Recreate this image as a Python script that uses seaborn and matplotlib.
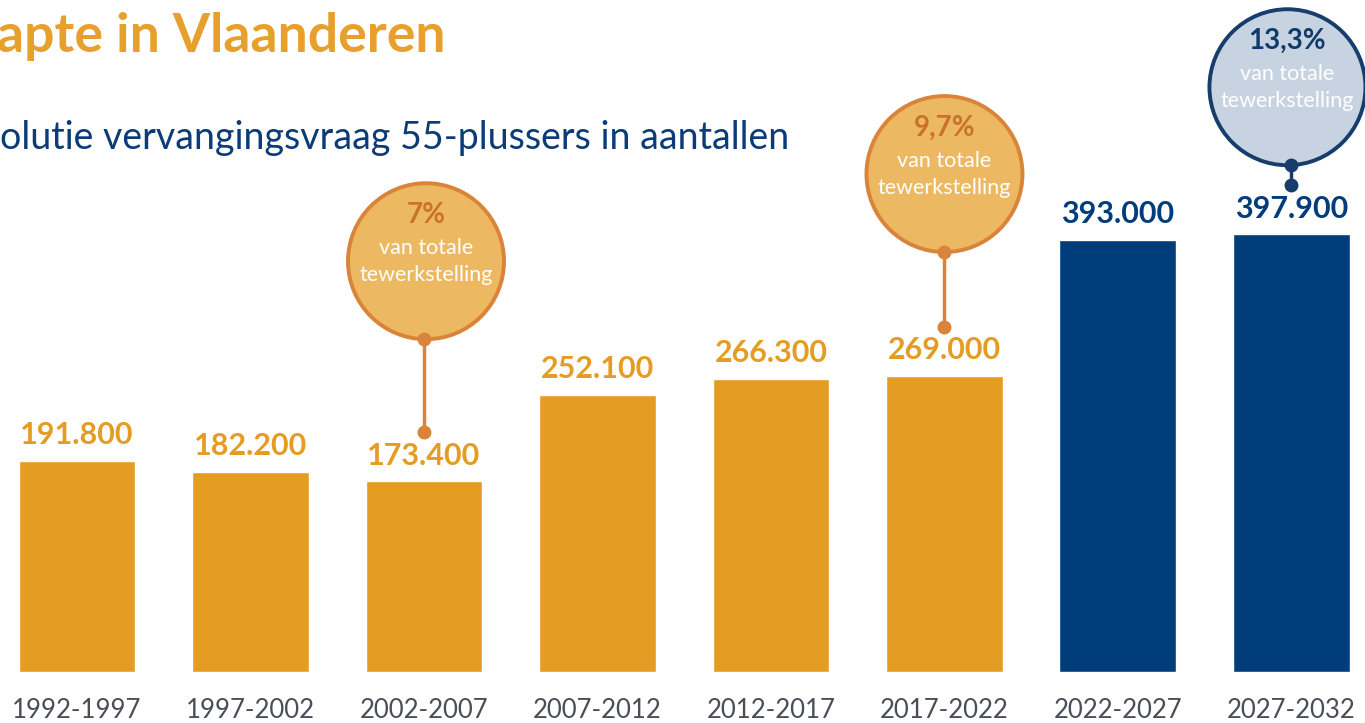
import matplotlib
matplotlib.use("Agg")
import matplotlib.pyplot as plt
import seaborn as sns
import pandas as pd
from matplotlib.patches import Ellipse

# ---------------- data ----------------
periods = ["1992-1997", "1997-2002", "2002-2007", "2007-2012",
           "2012-2017", "2017-2022", "2022-2027", "2027-2032"]
values = [191800, 182200, 173400, 252100, 266300, 269000, 393000, 397900]
value_labels = ["191.800", "182.200", "173.400", "252.100",
                "266.300", "269.000", "393.000", "397.900"]
kind = ["realisatie"] * 6 + ["projectie"] * 2
bubble_periods = ["2002-2007", "2017-2022", "2027-2032"]
bubble_pcts = ["7%", "9,7%", "13,3%"]
bubble_lines = ["van totale", "tewerkstelling"]
title_text = "apte in Vlaanderen"
subtitle_text = "olutie vervangingsvraag 55-plussers in aantallen"

# ---------------- style ----------------
ORANGE = "#E59C22"
NAVY = "#003D7A"
sns.set_theme(style="white")
plt.rcParams["font.family"] = ["Lato", "DejaVu Sans"]

W, H = 1365, 723
BOTTOM_PX = 51
AX_H_PX = H - BOTTOM_PX
XLIM = (-0.444, 7.424)
YLIM = (0, 610800)
xu = (XLIM[1] - XLIM[0]) / W
yu = (YLIM[1] - YLIM[0]) / AX_H_PX

fig = plt.figure(figsize=(W / 100, H / 100), dpi=100)
ax = fig.add_axes([0, BOTTOM_PX / H, 1, AX_H_PX / H])

df = pd.DataFrame({"periode": periods, "aantal": values, "soort": kind})
sns.barplot(data=df, x="periode", y="aantal", hue="soort",
            palette={"realisatie": ORANGE, "projectie": NAVY},
            dodge=False, width=0.674, saturation=1, legend=False, ax=ax)

ax.set_xlim(*XLIM)
ax.set_ylim(*YLIM)
for s in ax.spines.values():
    s.set_visible(False)
ax.set_yticks([])
ax.set_xlabel("")
ax.set_ylabel("")
ax.tick_params(axis="x", length=0, pad=19, labelsize=18.5, labelcolor="#4A4E57")

# value labels
for i, (v, lab, k) in enumerate(zip(values, value_labels, kind)):
    ax.annotate(lab, xy=(i, v), xytext=(0, 12), textcoords="offset points",
                ha="center", va="baseline", fontsize=22, fontweight="bold",
                color=ORANGE if k == "realisatie" else NAVY)

# bubbles
bubble_up_px = [220, 202, 147]
bubble_dx_px = [2, 0, -4]
R_PX = 78
DOT_PX = 49
styles = [
    dict(fill="#EDB862", edge="#D9843A", pct="#C8722C", txt="white"),
    dict(fill="#EDB862", edge="#D9843A", pct="#C8722C", txt="white"),
    dict(fill="#C8D3E1", edge="#163D6B", pct="#0E3A6C", txt="white"),
]
for bp, pct, up, dx, st in zip(bubble_periods, bubble_pcts, bubble_up_px,
                               bubble_dx_px, styles):
    i = periods.index(bp)
    v = values[i]
    cx = i + dx * xu
    cy = v + up * yu
    dot_y = v + DOT_PX * yu
    bottom_y = cy - R_PX * yu
    ax.plot([i, i], [dot_y, bottom_y], color=st["edge"], lw=2.5,
            solid_capstyle="round", zorder=3)
    ax.add_patch(Ellipse((cx, cy), 2 * R_PX * xu, 2 * R_PX * yu,
                         facecolor=st["fill"], edgecolor=st["edge"], lw=2.8,
                         zorder=4))
    ax.plot([i, i], [dot_y, bottom_y], linestyle="none", marker="o",
            markersize=9, color=st["edge"], zorder=5)
    ax.text(cx, cy + 46 * yu, pct, ha="center", va="center", fontsize=20,
            fontweight="bold", color=st["pct"], zorder=6)
    ax.text(cx, cy + 13 * yu, bubble_lines[0], ha="center", va="center",
            fontsize=15.5, color=st["txt"], zorder=6)
    ax.text(cx, cy - 14 * yu, bubble_lines[1], ha="center", va="center",
            fontsize=15.5, color=st["txt"], zorder=6)

# titles
fig.text(-0.002, 1 - 52 / H, title_text, ha="left", va="baseline",
         fontsize=38.5, fontweight="bold", color="#E8A02D")
fig.text(0.0, 1 - 149 / H, subtitle_text, ha="left", va="baseline",
         fontsize=27, color="#0B3C78")

fig.savefig("out.png", dpi=100)
